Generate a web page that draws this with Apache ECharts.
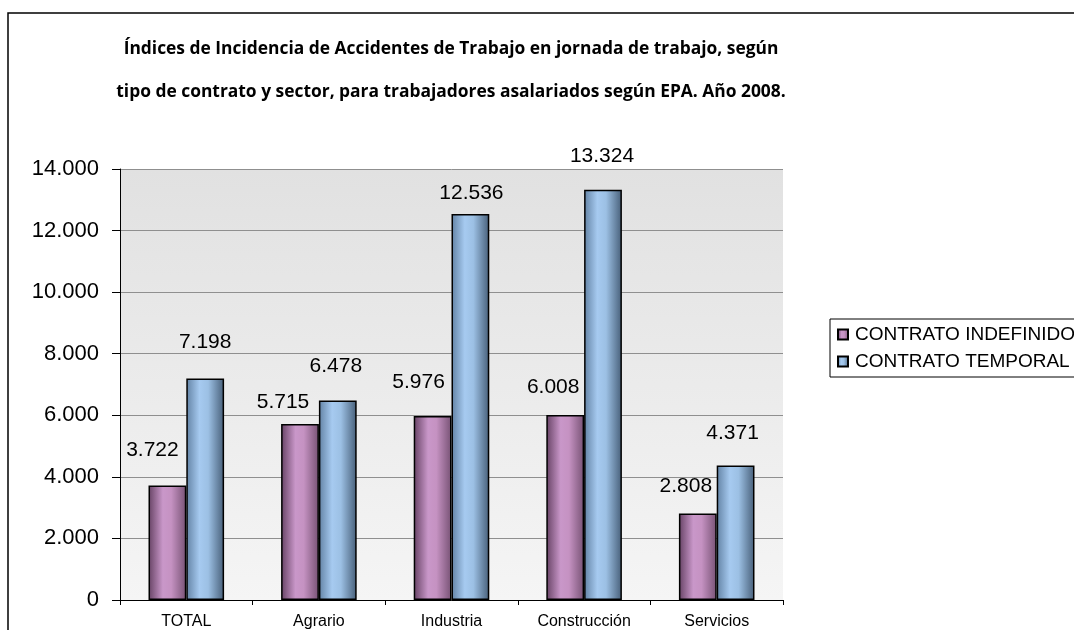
<!DOCTYPE html>
<html>
<head>
<meta charset="utf-8">
<script src="https://cdn.jsdelivr.net/npm/echarts@6/dist/echarts.min.js"></script>
<style>
  html, body { margin: 0; padding: 0; background: #fff; }
  #chart { width: 1074px; height: 630px; }
</style>
</head>
<body>
<div id="chart"></div>
<script>
// ---- data ----
var categories = ['TOTAL', 'Agrario', 'Industria', 'Construcción', 'Servicios'];
var seriesNames = ['CONTRATO INDEFINIDO', 'CONTRATO TEMPORAL'];
var indefinido = [3722, 5715, 5976, 6008, 2808];
var temporal = [7198, 6478, 12536, 13324, 4371];
var yTicks = { min: 0, max: 14000, interval: 2000 };
var titleText = 'Índices de Incidencia de Accidentes de Trabajo en jornada de trabajo, según\ntipo de contrato y sector, para trabajadores asalariados según EPA. Año 2008.';

// ---- styling (label nudges imitate the hand-placed labels of the original) ----
var nudgeIndef = [[-15, -24], [-17, -11], [-14, -23], [-12, -17], [-12, -16]];
var nudgeTemp  = [[0, -25], [-2, -23], [1, -10], [-1, -23], [-3, -21]];

function fmt(v) {
  var s = String(Math.round(v));
  return s.replace(/\B(?=(\d{3})+(?!\d))/g, '.');
}

var FONT = '"Liberation Sans", Arial, sans-serif';

var pinkGrad = new echarts.graphic.LinearGradient(0, 0, 1, 0, [
  { offset: 0, color: '#664264' },
  { offset: 0.38, color: '#c997c9' },
  { offset: 0.6, color: '#c592c2' },
  { offset: 1, color: '#775274' }
]);
var blueGrad = new echarts.graphic.LinearGradient(0, 0, 1, 0, [
  { offset: 0, color: '#6282a4' },
  { offset: 0.35, color: '#a6caf0' },
  { offset: 0.58, color: '#9cc0e4' },
  { offset: 1, color: '#475f79' }
]);

function buildData(values, nudges) {
  return values.map(function (v, i) {
    return { value: v, label: { offset: nudges[i] } };
  });
}

var labelStyle = {
  show: true,
  position: 'top',
  distance: 0,
  fontFamily: FONT,
  fontSize: 21,
  lineHeight: 22,
  color: '#000',
  formatter: function (p) { return fmt(p.value); }
};

var chart = echarts.init(document.getElementById('chart'), null, { renderer: 'canvas' });
chart.setOption({
  animation: false,
  backgroundColor: '#fff',
  graphic: [{
    type: 'rect',
    shape: { x: 8, y: 13, width: 1200, height: 800 },
    style: { fill: 'none', stroke: '#000', lineWidth: 1.5 },
    silent: true,
    z: -1
  }],
  title: {
    text: titleText,
    left: 446,
    top: 23,
    textAlign: 'center',
    textStyle: {
      fontFamily: '"Open Sans", "Liberation Sans", sans-serif',
      fontWeight: 'bold',
      fontSize: 17.4,
      lineHeight: 43,
      color: '#000'
    }
  },
  legend: {
    orient: 'vertical',
    left: 830,
    top: 319,
    padding: [6, 30, 6, 7],
    itemGap: 8,
    itemWidth: 10,
    itemHeight: 10,
    borderColor: '#000',
    borderWidth: 1,
    icon: 'rect',
    textStyle: { fontFamily: FONT, fontSize: 19, lineHeight: 18, color: '#000', padding: [0, 0, 0, 2] },
    data: seriesNames
  },
  grid: {
    left: 120,
    right: 291,
    top: 169,
    bottom: 30,
    show: true,
    borderWidth: 0,
    backgroundColor: new echarts.graphic.LinearGradient(0, 0, 0, 1, [
      { offset: 0, color: '#e1e1e1' },
      { offset: 1, color: '#f5f5f5' }
    ])
  },
  xAxis: {
    type: 'category',
    data: categories,
    axisLine: { lineStyle: { color: '#000', width: 1 } },
    axisTick: { show: true, length: 5, alignWithLabel: false, lineStyle: { color: '#000' } },
    axisLabel: { fontFamily: FONT, fontSize: 16, color: '#000', margin: 14 }
  },
  yAxis: {
    type: 'value',
    min: yTicks.min,
    max: yTicks.max,
    interval: yTicks.interval,
    axisLine: { show: true, lineStyle: { color: '#000', width: 1 } },
    axisTick: { show: true, length: 8, lineStyle: { color: '#000' } },
    axisLabel: {
      fontFamily: FONT, fontSize: 22, color: '#000', margin: 21,
      formatter: function (v) { return fmt(v); }
    },
    splitLine: { show: true, lineStyle: { color: '#8f8f8f', width: 1 } }
  },
  series: [
    {
      name: seriesNames[0],
      type: 'bar',
      barGap: '0%',
      barCategoryGap: '43%',
      data: buildData(indefinido, nudgeIndef),
      itemStyle: { color: pinkGrad, borderColor: '#000', borderWidth: 1.5 },
      label: labelStyle
    },
    {
      name: seriesNames[1],
      type: 'bar',
      barGap: '0%',
      barCategoryGap: '43%',
      data: buildData(temporal, nudgeTemp),
      itemStyle: { color: blueGrad, borderColor: '#000', borderWidth: 1.5 },
      label: labelStyle
    }
  ]
});
</script>
</body>
</html>
